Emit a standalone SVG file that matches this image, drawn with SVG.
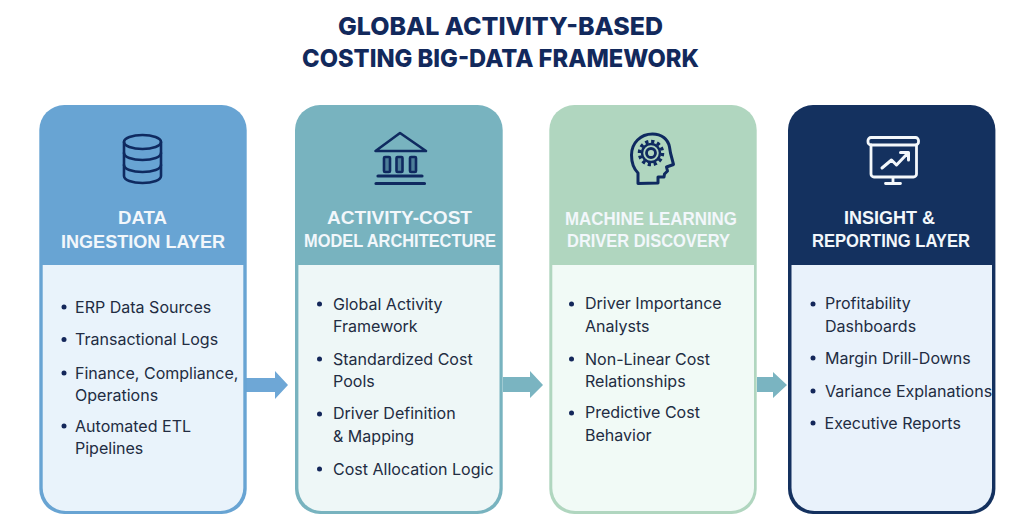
<svg xmlns="http://www.w3.org/2000/svg" width="1024" height="516" viewBox="0 0 1024 516">
<style>
.title{font-size:25px;font-weight:800;fill:#12295c;text-anchor:middle;font-family:Inter,"Liberation Sans",sans-serif}
.head{font-size:19px;font-weight:700;fill:#f2f7fb;text-anchor:middle;font-family:"Liberation Sans",Arial,sans-serif}
.item{font-size:16.05px;fill:#222c42;font-family:Inter,"Liberation Sans",sans-serif}
.dot{fill:#14275a}
.ln{fill:none;stroke:#0f2a60;stroke-width:2.6;stroke-linecap:round;stroke-linejoin:round}
.lw{fill:none;stroke:#f4f8fb;stroke-width:2.8;stroke-linecap:round;stroke-linejoin:round}
.conn{stroke:none}
</style>
<rect width="1024" height="516" fill="#ffffff"/>
<g id="title">
<text class="title" x="500.500" y="35" textLength="325" lengthAdjust="spacingAndGlyphs">GLOBAL ACTIVITY-BASED</text>
<text class="title" x="500.500" y="67" textLength="397" lengthAdjust="spacingAndGlyphs">COSTING BIG-DATA FRAMEWORK</text>
</g>
<g id="connectors">
<polygon class="conn" fill="#6ea7d6" points="246,378 275,378 275,371 288,385 275,399 275,392 246,392"/>
<polygon class="conn" fill="#7ab4c1" points="503,377 530,377 530,371 543,385 530,398 530,392 503,392"/>
<polygon class="conn" fill="#7ab4c1" points="757,377 773,377 773,372 787,385 773,398 773,392 757,392"/>
</g>
<g id="node-ingestion">
<rect x="39.300" y="105" width="207.400" height="409" rx="25" fill="#68a4d3"/>
<path d="M42.700 265H243.300V488a23 23 0 0 1-23 23H65.700a23 23 0 0 1-23-23Z" fill="#e9f3fb"/>
<g class="ln"><ellipse cx="142.500" cy="142" rx="18.500" ry="7"/><path d="M124 142V176c0 4 8 7 18.500 7s18.500-3 18.500-7V142"/><path d="M124 153c0 4 8 7 18.500 7s18.500-3 18.500-7M124 165c0 4 8 7 18.500 7s18.500-3 18.500-7"/></g>
<text class="head" x="142.500" y="224" textLength="49" lengthAdjust="spacingAndGlyphs">DATA</text>
<text class="head" x="143" y="247.500" textLength="164" lengthAdjust="spacingAndGlyphs">INGESTION LAYER</text>
<circle class="dot" cx="64" cy="307" r="2.500"/><text class="item" x="75" y="313">ERP Data Sources</text>
<circle class="dot" cx="64" cy="339.500" r="2.500"/><text class="item" x="75" y="345">Transactional Logs</text>
<circle class="dot" cx="64" cy="373" r="2.500"/><text class="item" x="75" y="378.500">Finance, Compliance,</text><text class="item" x="75" y="401">Operations</text>
<circle class="dot" cx="64" cy="426" r="2.500"/><text class="item" x="75" y="432">Automated ETL</text><text class="item" x="75" y="453.500">Pipelines</text>
</g>
<g id="node-model">
<rect x="295" y="105" width="207.700" height="409" rx="25" fill="#78b3bf"/>
<path d="M298.400 265H499.500V488a23 23 0 0 1-23 23H321.400a23 23 0 0 1-23-23Z" fill="#eef7f7"/>
<g class="ln"><path d="M375.500 151L400 133L426 151Z"/><g fill="#4d7f98"><rect x="384" y="157" width="6" height="15" rx="1"/><rect x="396.500" y="157" width="6" height="15" rx="1"/><rect x="410" y="157" width="6" height="15" rx="1"/></g><path d="M378 176H422M376 183.500H424.500" stroke-width="3.200"/></g>
<text class="head" x="399.500" y="223.500" textLength="145" lengthAdjust="spacingAndGlyphs">ACTIVITY-COST</text>
<text class="head" x="400" y="247" textLength="192" lengthAdjust="spacingAndGlyphs">MODEL ARCHITECTURE</text>
<circle class="dot" cx="319.500" cy="304" r="2.500"/><text class="item" x="333" y="310">Global Activity</text><text class="item" x="333" y="332">Framework</text>
<circle class="dot" cx="319.500" cy="359" r="2.500"/><text class="item" x="333" y="365">Standardized Cost</text><text class="item" x="333" y="387">Pools</text>
<circle class="dot" cx="319.500" cy="414" r="2.500"/><text class="item" x="333" y="419">Driver Definition</text><text class="item" x="333" y="442">&amp; Mapping</text>
<circle class="dot" cx="319.500" cy="469" r="2.500"/><text class="item" x="333" y="475">Cost Allocation Logic</text>
</g>
<g id="node-ml">
<rect x="549.300" y="105" width="207.400" height="409" rx="25" fill="#b0d6bf"/>
<path d="M552.300 265H754V488a23 23 0 0 1-23 23H575.300a23 23 0 0 1-23-23Z" fill="#f1faf6"/>
<g class="ln"><path d="M638 183.500V173c-4-4-6.500-10-6.500-18 0-12 9-21 21-21 9 0 15.500 5 17 13l1 6 3 11.500-7 2.500 1 4-3 3-.5 3-6 0v6Z" stroke-width="3"/><circle cx="651" cy="153" r="11.500" stroke-width="3.500" stroke-dasharray="3.200 2.800" stroke-linecap="butt"/><circle cx="651" cy="153" r="9" stroke-width="2.500"/><circle cx="651" cy="153" r="4.500" stroke-width="2.800"/></g>
<text class="head" x="651" y="225" textLength="172" lengthAdjust="spacingAndGlyphs">MACHINE LEARNING</text>
<text class="head" x="648.500" y="247" textLength="163" lengthAdjust="spacingAndGlyphs">DRIVER DISCOVERY</text>
<circle class="dot" cx="571.500" cy="304" r="2.500"/><text class="item" x="585" y="309">Driver Importance</text><text class="item" x="585" y="332">Analysts</text>
<circle class="dot" cx="571.500" cy="359" r="2.500"/><text class="item" x="585" y="365">Non-Linear Cost</text><text class="item" x="585" y="387">Relationships</text>
<circle class="dot" cx="571.500" cy="413" r="2.500"/><text class="item" x="585" y="418">Predictive Cost</text><text class="item" x="585" y="441">Behavior</text>
</g>
<g id="node-insight">
<rect x="788" y="105" width="207.400" height="409" rx="25" fill="#14315f"/>
<path d="M791.500 265H992V488a23 23 0 0 1-23 23H814.500a23 23 0 0 1-23-23Z" fill="#e9f2fb"/>
<g class="lw"><rect x="868" y="137.500" width="50.500" height="7.500" rx="3"/><path d="M871 145V174a3 3 0 0 0 3 3H913.500a3 3 0 0 0 3-3V145M893 177V183.500M885.500 183.500H900.500"/><path d="M882 168L891.500 160L896.500 165L907 154M900.500 152.500H908.500V160" stroke-width="3"/></g>
<text class="head" x="889.500" y="224" textLength="91" lengthAdjust="spacingAndGlyphs">INSIGHT &amp;</text>
<text class="head" x="891" y="247" textLength="158" lengthAdjust="spacingAndGlyphs">REPORTING LAYER</text>
<circle class="dot" cx="813" cy="304" r="2.500"/><text class="item" x="825" y="309">Profitability</text><text class="item" x="825" y="332">Dashboards</text>
<circle class="dot" cx="813" cy="358" r="2.500"/><text class="item" x="825" y="364">Margin Drill-Downs</text>
<circle class="dot" cx="813" cy="391" r="2.500"/><text class="item" x="825" y="397">Variance Explanations</text>
<circle class="dot" cx="813" cy="423" r="2.500"/><text class="item" x="824.500" y="429">Executive Reports</text>
</g>
</svg>
